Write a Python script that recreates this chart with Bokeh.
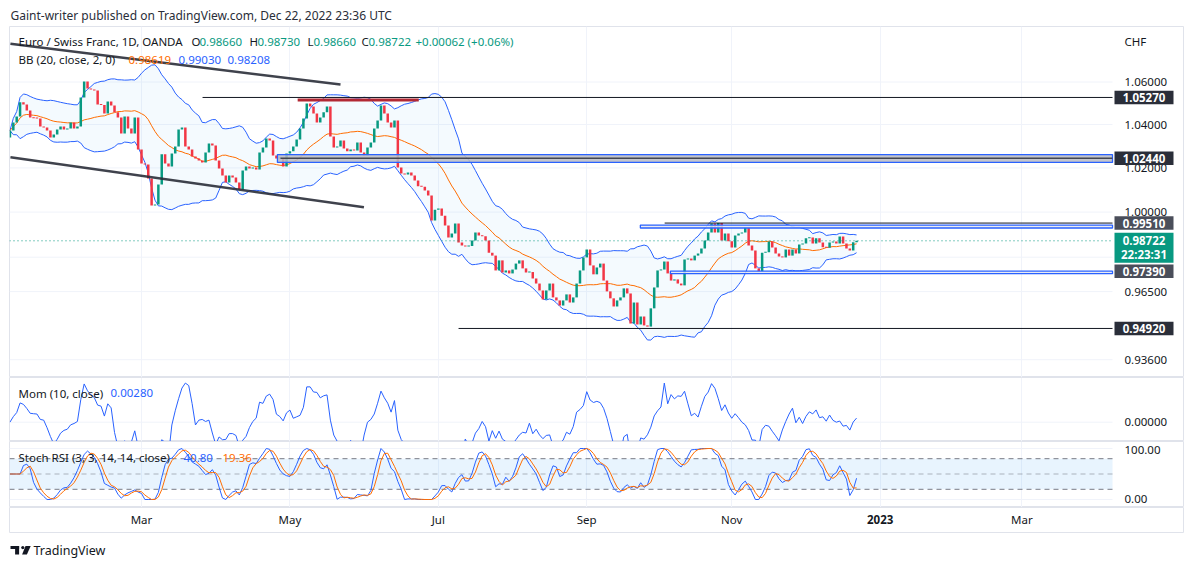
import math
import numpy as np
import pandas as pd
from bokeh.plotting import figure
from bokeh.models import Range1d, FixedTicker, Label, ColumnDataSource
from bokeh.layouts import column
from bokeh.embed import file_html
from bokeh.resources import INLINE
from bokeh.core.properties import value

# ------------------------------------------------------------------ data
publish_text = "Gaint-writer published on TradingView.com, Dec 22, 2022 23:36 UTC"
symbol_title = "Euro / Swiss Franc, 1D, OANDA"
ohlc_keys = ["O", "H", "L", "C"]
ohlc_vals = ["0.98660", "0.98730", "0.98660", "0.98722"]
change_text = "+0.00062 (+0.06%)"
bb_title = "BB (20, close, 2, 0)"
bb_values = ["0.98619", "0.99030", "0.98208"]
mom_title = "Mom (10, close)"
mom_value = "0.00280"
stoch_title = "Stoch RSI (3, 3, 14, 14, close)"
stoch_values = ["40.80", "19.36"]
currency = "CHF"
countdown = "22:23:31"

first_date = "2022-01-05"
first_open = 1.0340
closes = [
    1.0372, 1.0410, 1.0438, 1.0504, 1.0494, 1.0466, 1.0433, 1.0430, 1.0428, 1.0391,
    1.0386, 1.0372, 1.0340, 1.0354, 1.0377, 1.0391, 1.0377, 1.0382, 1.0410, 1.0382,
    1.0391, 1.0527, 1.0602, 1.0569, 1.0565, 1.0560, 1.0494, 1.0492, 1.0452, 1.0508,
    1.0489, 1.0457, 1.0433, 1.0358, 1.0438, 1.0382, 1.0358, 1.0433, 1.0285, 1.0220,
    1.0216, 1.0152, 1.0030, 1.0034, 1.0124, 1.0262, 1.0220, 1.0206, 1.0266, 1.0298,
    1.0377, 1.0386, 1.0298, 1.0285, 1.0252, 1.0243, 1.0234, 1.0225, 1.0271, 1.0312,
    1.0303, 1.0234, 1.0197, 1.0165, 1.0134, 1.0165, 1.0156, 1.0134, 1.0102, 1.0188,
    1.0206, 1.0197, 1.0202, 1.0193, 1.0271, 1.0294, 1.0335, 1.0326, 1.0257, 1.0243,
    1.0245, 1.0206, 1.0266, 1.0276, 1.0298, 1.0331, 1.0382, 1.0428, 1.0499, 1.0485,
    1.0452, 1.0410, 1.0433, 1.0457, 1.0485, 1.0345, 1.0294, 1.0298, 1.0326, 1.0289,
    1.0276, 1.0285, 1.0280, 1.0317, 1.0271, 1.0257, 1.0294, 1.0317, 1.0382, 1.0419,
    1.0489, 1.0452, 1.0410, 1.0386, 1.0419, 1.0202, 1.0175, 1.0170, 1.0179, 1.0165,
    1.0143, 1.0116, 1.0114, 1.0097, 1.0075, 0.9962, 1.0011, 1.0016, 0.9984, 0.9940,
    0.9887, 0.9905, 0.9949, 0.9865, 0.9852, 0.9847, 0.9849, 0.9874, 0.9909, 0.9896,
    0.9892, 0.9874, 0.9820, 0.9807, 0.9742, 0.9786, 0.9733, 0.9742, 0.9729, 0.9746,
    0.9772, 0.9786, 0.9751, 0.9733, 0.9735, 0.9707, 0.9685, 0.9655, 0.9616, 0.9655,
    0.9685, 0.9625, 0.9612, 0.9590, 0.9612, 0.9638, 0.9603, 0.9625, 0.9685, 0.9742,
    0.9799, 0.9834, 0.9764, 0.9725, 0.9755, 0.9772, 0.9698, 0.9651, 0.9621, 0.9586,
    0.9612, 0.9625, 0.9664, 0.9642, 0.9513, 0.9603, 0.9509, 0.9543, 0.9505, 0.9500,
    0.9578, 0.9668, 0.9742, 0.9746, 0.9781, 0.9729, 0.9698, 0.9703, 0.9685, 0.9677,
    0.9790, 0.9794, 0.9786, 0.9807, 0.9816, 0.9838, 0.9874, 0.9909, 0.9949, 0.9909,
    0.9951, 0.9874, 0.9905, 0.9870, 0.9843, 0.9896, 0.9905, 0.9909, 0.9931, 0.9852,
    0.9829, 0.9751, 0.9738, 0.9820, 0.9822, 0.9869, 0.9843, 0.9816, 0.9803, 0.9799,
    0.9834, 0.9807, 0.9834, 0.9816, 0.9856, 0.9860, 0.9883, 0.9887, 0.9860, 0.9883,
    0.9865, 0.9844, 0.9841, 0.9865, 0.9869, 0.9860, 0.9891, 0.9860, 0.9838, 0.9829,
    0.9866, 0.98722,
]

bb_length, bb_mult = 20, 2
mom_length = 10
rsi_length, stoch_length, k_smooth, d_smooth = 14, 14, 3, 3

month_labels = ["Mar", "May", "Jul", "Sep", "Nov", "2023", "Mar"]
month_dates = ["2022-03-01", "2022-05-02", "2022-07-01", "2022-09-01",
               "2022-11-01", "2023-01-02", "2023-03-01"]
price_ticks = [0.936, 0.965, 0.98, 1.00, 1.02, 1.04, 1.06]
price_tick_shown = [True, True, False, True, True, True, True]
mom_ticks = [0.0]
stoch_ticks = [0.0, 100.0]
stoch_levels = [80, 50, 20]

# drawings (bar position counted from 2022-01-03, price)
upper_trend_x = [2.14, 100.0]
upper_trend_y = [1.0783, 1.0588]
lower_trend_x = [2.14, 106.95]
lower_trend_y = [1.0249, 1.0022]
hline_start = [59.1, 196.1, 135.0]
hline_price = [1.0527, 0.9951, 0.9492]
red_line_x = [87.3, 123.2]
red_line_price = 1.0515
zone_start = [81.3, 188.9, 197.8]
zone_bottom = [1.0225, 0.9929, 0.9728]
zone_top = [1.0261, 0.9942, 0.9739]
zone_mid_start = 82.2
zone_mid_price = 1.0244
axis_box_prices = [1.0527, 1.0244, 0.9951, 0.9739, 0.9492]
axis_box_colors = ["#2a2e39", "#2a2e39", "#4a4e5a", "#4a4e5a", "#2a2e39"]
last_price = 0.98722

# ------------------------------------------------------------------ layout helpers
PX_PER_BAR = 3.373
def bx(px):            # page pixel x -> bar position
    return 41.0 + (px - 141.0) / PX_PER_BAR
def yp(py):            # page pixel y -> price (log scale)
    return math.exp((211.6 - py) / 2232.0)
def ppx(price):        # price -> page pixel y
    return 211.6 - 2232.0 * math.log(price)
def ym(py):            # page pixel y -> momentum
    return (421.7 - py) / 1460.0
def ys(py):            # page pixel y -> stoch rsi
    return (499.0 - py) / 0.51

FONT = "Noto Sans"
DARK = "#131722"
GREEN = "#089981"
RED = "#f23645"
BLUE = "#2962ff"
ORANGE = "#ff6d00"
GRID = "#f0f3fa"
BORDER = "#e0e3eb"
W = 1185
LB, RB = 9, 2
PLOT_END = bx(1112)
SCALE_X = bx(1124)
BOX_L, BOX_R, BOX_C = bx(1114), bx(1173), bx(1143.5)

# ------------------------------------------------------------------ derived series
cal = pd.bdate_range("2022-01-03", "2023-04-28")
dates = pd.bdate_range(first_date, periods=len(closes))
bar_x = cal.get_indexer(dates).astype(float)
month_x = [int(v) for v in cal.get_indexer(pd.to_datetime(month_dates))]

c = pd.Series(closes, dtype=float)
o = pd.Series([first_open] + closes[:-1], dtype=float)
top = np.maximum(o, c)
bot = np.minimum(o, c)
top = np.maximum(top, bot * 1.00045)
colors = np.where(c >= o, GREEN, RED)
candles = ColumnDataSource(dict(x=bar_x, top=top, bottom=bot, color=colors))

mid = c.rolling(bb_length, min_periods=1).mean()
sd = c.rolling(bb_length, min_periods=1).std(ddof=0).fillna(0)
upper = mid + bb_mult * sd
lower = mid - bb_mult * sd

mom = c - c.shift(mom_length)
mom = mom.fillna(c - c.iloc[0])

delta = c.diff().fillna(0)
gain = delta.clip(lower=0).ewm(alpha=1 / rsi_length, adjust=False).mean()
loss = (-delta.clip(upper=0)).ewm(alpha=1 / rsi_length, adjust=False).mean()
rs = gain / loss.replace(0, np.nan)
rsi = (100 - 100 / (1 + rs)).fillna(50)
lo = rsi.rolling(stoch_length, min_periods=1).min()
hi = rsi.rolling(stoch_length, min_periods=1).max()
stoch = ((rsi - lo) / (hi - lo).replace(0, np.nan) * 100).fillna(50)
k = stoch.rolling(k_smooth, min_periods=1).mean()
d = k.rolling(d_smooth, min_periods=1).mean()

xr = Range1d(bx(LB), bx(1183))


def pane(height, y_range, log=False):
    f = figure(width=W, height=height, x_range=xr, y_range=y_range,
               y_axis_type="log" if log else "linear",
               output_backend="svg", toolbar_location=None,
               min_border_left=LB, min_border_right=RB, min_border_top=0, min_border_bottom=0)
    f.axis.visible = False
    f.background_fill_color = "white"
    f.border_fill_color = "white"
    f.outline_line_color = BORDER
    f.xgrid.ticker = FixedTicker(ticks=month_x)
    f.xgrid.grid_line_color = GRID
    f.ygrid.visible = False
    return f


def hgrid(f, ticks):
    f.segment(x0=[xr.start] * len(ticks), y0=ticks, x1=[PLOT_END] * len(ticks), y1=ticks,
              line_color=GRID, line_width=1)


def scale_text(f, ys_, texts, color=DARK):
    f.text(x=[SCALE_X] * len(ys_), y=ys_, text=texts, text_font=value(FONT),
           text_font_size="11.5px", text_color=color, text_baseline="middle",
           text_align="left")


def label(f, x, y, text, color=DARK, size="11.5px", bold=False, align="left"):
    f.add_layout(Label(x=x, y=y, text=text, text_color=color, text_font=FONT,
                       text_font_size=size, text_font_style="bold" if bold else "normal",
                       text_align=align, text_baseline="middle"))


# ------------------------------------------------------------------ header
head = figure(width=W, height=26, x_range=Range1d(LB, 1183), y_range=Range1d(26, 0),
              output_backend="svg", toolbar_location=None,
              min_border_left=LB, min_border_right=RB, min_border_top=0, min_border_bottom=0)
head.axis.visible = False
head.grid.visible = False
head.outline_line_color = None
head.text(x=[10], y=[15], text=[publish_text], text_font=value(FONT),
          text_font_size="12px", text_color="#2a2e39", text_baseline="middle")

# ------------------------------------------------------------------ price pane
p = pane(351, Range1d(yp(377), yp(26)), log=True)
hgrid(p, price_ticks)

p.varea(x=bar_x, y1=lower, y2=upper, fill_color="#2196f3", fill_alpha=0.05)
p.line(bar_x, upper, line_color=BLUE, line_width=1)
p.line(bar_x, lower, line_color=BLUE, line_width=1)
p.line(bar_x, mid, line_color=ORANGE, line_width=1)

p.vbar(x="x", width=0.74, top="top", bottom="bottom", fill_color="color",
       line_color=None, source=candles)

p.line(upper_trend_x, upper_trend_y, line_color="#2a2e39", line_width=2.5, line_alpha=0.9)
p.line(lower_trend_x, lower_trend_y, line_color="#2a2e39", line_width=2.5, line_alpha=0.9)

p.quad(left=zone_start, right=[PLOT_END] * 3, bottom=zone_bottom, top=zone_top,
       fill_color=["#b8bbc3", "#e6e8ee", "#e6e8ee"], fill_alpha=0.85,
       line_color=BLUE, line_width=1.3)
p.segment(x0=[zone_mid_start], y0=[zone_mid_price], x1=[PLOT_END], y1=[zone_mid_price],
          line_color="#434651", line_width=1.5)
p.segment(x0=hline_start, y0=hline_price, x1=[PLOT_END] * 3, y1=hline_price,
          line_color=DARK, line_width=1)
p.segment(x0=[red_line_x[0]], y0=[red_line_price], x1=[red_line_x[1]], y1=[red_line_price],
          line_color="#b22833", line_width=3)
p.segment(x0=[xr.start], y0=[last_price], x1=[PLOT_END], y1=[last_price],
          line_color=GREEN, line_width=1, line_dash="1 3")

# legend texts
label(p, bx(18), yp(41), symbol_title)
for key, val, kx, vx in zip(ohlc_keys, ohlc_vals, [191, 249, 307, 361], [199, 257, 313, 368]):
    label(p, bx(kx), yp(41), key)
    label(p, bx(vx), yp(41), val, color=GREEN)
label(p, bx(415), yp(41), change_text, color=GREEN)
label(p, bx(18), yp(59), bb_title)
for val, vx, col in zip(bb_values, [128, 178, 227], [ORANGE, BLUE, BLUE]):
    label(p, bx(vx), yp(59), val, color=col)

# price scale
shown = [t_ for t_, s_ in zip(price_ticks, price_tick_shown) if s_]
scale_text(p, shown, [f"{t_:.5f}" for t_ in shown])
scale_text(p, [yp(41)], [currency])
half = 6.75 / 2232.0
p.quad(left=[BOX_L] * 5, right=[BOX_R] * 5,
       bottom=[v * math.exp(-half) for v in axis_box_prices],
       top=[v * math.exp(half) for v in axis_box_prices],
       fill_color=axis_box_colors, line_color=None)
p.text(x=[BOX_C] * 5, y=axis_box_prices, text=[f"{v:.5f}" for v in axis_box_prices],
       text_font=value(FONT), text_font_size="11.5px", text_font_style="bold",
       text_color="white", text_align="center", text_baseline="middle")
lp = ppx(last_price)
p.quad(left=[BOX_L], right=[BOX_R], bottom=[yp(lp + 22)], top=[yp(lp - 8)],
       fill_color=GREEN, line_color=None)
p.text(x=[BOX_C, BOX_C], y=[last_price, yp(lp + 14)], text=[f"{last_price:.5f}", countdown],
       text_font=value(FONT), text_font_size="11.5px", text_font_style="bold",
       text_color="white", text_align="center", text_baseline="middle")

# ------------------------------------------------------------------ momentum pane
m = pane(64, Range1d(ym(441), ym(377)))
hgrid(m, mom_ticks)
m.line(bar_x, mom, line_color=BLUE, line_width=1)
scale_text(m, mom_ticks, [f"{t_:.5f}" for t_ in mom_ticks])
label(m, bx(18), ym(392.7), mom_title)
label(m, bx(110), ym(392.7), mom_value, color=BLUE)

# ------------------------------------------------------------------ stoch rsi pane
s = pane(66, Range1d(ys(507), ys(441)))
hgrid(s, stoch_ticks)
s.quad(left=[xr.start], right=[PLOT_END], bottom=[stoch_levels[2]], top=[stoch_levels[0]],
       fill_color="#2196f3", fill_alpha=0.1, line_color=None)
s.segment(x0=[xr.start] * 3, y0=stoch_levels, x1=[PLOT_END] * 3, y1=stoch_levels,
          line_color="#787b86", line_alpha=[1.0, 0.55, 1.0], line_dash="5 4", line_width=1)
s.line(bar_x, k, line_color=BLUE, line_width=1)
s.line(bar_x, d, line_color=ORANGE, line_width=1)
scale_text(s, [ys(449), ys(498)], [f"{t_:.2f}" for t_ in stoch_ticks[::-1]])
label(s, bx(18), ys(457), stoch_title)
label(s, bx(183), ys(457), stoch_values[0], color=BLUE)
label(s, bx(222), ys(457), stoch_values[1], color=ORANGE)

# ------------------------------------------------------------------ time scale
t = figure(width=W, height=26, x_range=xr, y_range=Range1d(533, 507),
           output_backend="svg", toolbar_location=None,
           min_border_left=LB, min_border_right=RB, min_border_top=0, min_border_bottom=0)
t.axis.visible = False
t.grid.visible = False
t.outline_line_color = BORDER
normal = [(x, lb) for x, lb in zip(month_x, month_labels) if lb != "2023"]
bold = [(x, lb) for x, lb in zip(month_x, month_labels) if lb == "2023"]
t.text(x=[a for a, _ in normal], y=[519] * len(normal), text=[b for _, b in normal],
       text_font=value(FONT), text_font_size="11.5px", text_color=DARK,
       text_align="center", text_baseline="middle")
t.text(x=[a for a, _ in bold], y=[519] * len(bold), text=[b for _, b in bold],
       text_font=value(FONT), text_font_size="11.5px", text_font_style="bold",
       text_color=DARK, text_align="center", text_baseline="middle")

# ------------------------------------------------------------------ footer
foot = figure(width=W, height=29, x_range=Range1d(LB, 1183), y_range=Range1d(562, 533),
              output_backend="svg", toolbar_location=None,
              min_border_left=LB, min_border_right=RB, min_border_top=0, min_border_bottom=0)
foot.axis.visible = False
foot.grid.visible = False
foot.outline_line_color = None
foot.quad(left=[10, 14.6], right=[18.6, 18.6], top=[545.5, 545.5], bottom=[548.6, 554],
          fill_color=DARK, line_color=None)
foot.circle(x=[22.3], y=[547.1], radius=1.6, fill_color=DARK, line_color=None)
foot.patch(x=[25.0, 30.2, 26.4, 21.6], y=[545.5, 545.5, 554, 554], fill_color=DARK, line_color=None)
foot.text(x=[33], y=[550], text=["TradingView"], text_font=value(FONT),
          text_font_size="12.5px", text_color=DARK, text_baseline="middle")

layout = column(head, p, m, s, t, foot, spacing=0)
open("out.html", "w").write(file_html(layout, INLINE))
